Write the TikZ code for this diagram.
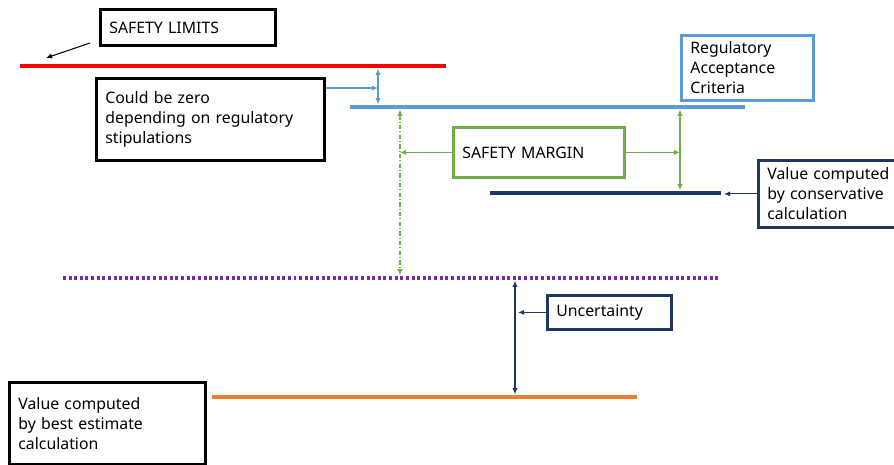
\documentclass[tikz,border=0pt]{standalone}
\usepackage{fontspec}
\setmainfont{Noto Sans}
\usetikzlibrary{arrows.meta}
\definecolor{limred}{HTML}{FF0000}
\definecolor{regblue}{HTML}{5B9BD5}
\definecolor{margreen}{HTML}{70AD47}
\definecolor{consnavy}{HTML}{1F3864}
\definecolor{dotpurple}{HTML}{7030A0}
\definecolor{bestorange}{HTML}{ED7D31}
\begin{document}
\begin{tikzpicture}[x=0.02cm,y=-0.02cm,>={Latex[length=3.5pt,width=3pt]},
  box/.style={draw,line width=1.6pt,anchor=north west,inner xsep=5pt,inner ysep=0pt,align=left,font=\fontsize{9}{11.3}\selectfont},
  level/.style={line width=2.2pt},
  pointer/.style={line width=0.6pt}]
\clip (0,0) rectangle (894,464);
\node[box,minimum width=3.5cm,text width=3.14cm,minimum height=0.72cm] (limits) at (99,8) {SAFETY LIMITS};
\node[box,minimum width=4.56cm,text width=4.2cm,minimum height=1.64cm] (zero) at (95,77) {Could be zero\\depending on regulatory\\stipulations};
\node[box,regblue,text=black,minimum width=2.64cm,text width=2.28cm,minimum height=1.3cm] (reg) at (680,34) {Regulatory\\Acceptance\\Criteria};
\node[box,margreen,text=black,minimum width=3.42cm,text width=3.06cm,minimum height=1cm] (margin) at (452,126) {SAFETY MARGIN};
\node[box,consnavy,text=black,minimum width=3cm,text width=2.64cm,minimum height=1.34cm] (cons) at (757,159) {Value computed\\by conservative\\calculation};
\node[box,consnavy,text=black,minimum width=2.48cm,text width=2.12cm,minimum height=0.68cm] (unc) at (546,294) {Uncertainty};
\node[box,minimum width=3.92cm,text width=3.56cm,minimum height=1.64cm] (best) at (8,381) {Value computed\\by best estimate\\calculation};
\coordinate (red-w) at (20,66);
\coordinate (red-e) at (446,66);
\coordinate (blue-w) at (350,107);
\coordinate (blue-e) at (745,107);
\coordinate (cons-w) at (490,193);
\coordinate (cons-e) at (721,193);
\coordinate (dot-w) at (63,278);
\coordinate (dot-e) at (720,278);
\coordinate (orange-w) at (212,397);
\coordinate (orange-e) at (637,397);
\draw[level,limred] (red-w) -- (red-e);
\draw[level,regblue] (blue-w) -- (blue-e);
\draw[level,consnavy] (cons-w) -- (cons-e);
\draw[line width=2pt,dotpurple,dash pattern=on 1.7pt off 1.5pt] (dot-w) -- (dot-e);
\draw[level,bestorange] (orange-w) -- (orange-e);
\coordinate (lim-tail) at (90,43);
\coordinate (lim-head) at (46,58);
\draw[pointer,->] (lim-tail) -- (lim-head);
\coordinate (zero-gap) at (378,88);
\draw[pointer,regblue,->] (zero.east |- zero-gap) -- (zero-gap);
\draw[pointer,regblue,<->,shorten <=1.5pt,shorten >=1.5pt] (zero-gap |- red-w) -- (zero-gap |- blue-w);
\coordinate (sm-l) at (400,152);
\coordinate (sm-r) at (680,152);
\draw[pointer,margreen,<->,dash pattern=on 2.5pt off 1.2pt on 0.6pt off 1.2pt,shorten <=1.5pt,shorten >=1.5pt] (sm-l |- blue-w) -- (sm-l |- dot-w);
\draw[pointer,margreen,->] (margin.west) -- (margin.west -| sm-l);
\draw[pointer,margreen,->] (margin.east) -- (margin.east -| sm-r);
\draw[pointer,margreen,<->,shorten <=1.5pt,shorten >=1.5pt] (sm-r |- blue-w) -- (sm-r |- cons-w);
\coordinate (cons-tip) at (724,193);
\draw[pointer,consnavy,->] (cons.west) -- (cons.west -| cons-tip);
\coordinate (unc-x) at (515,313);
\coordinate (unc-tip) at (518,313);
\draw[pointer,consnavy,<->,shorten <=1.5pt,shorten >=1.5pt] (unc-x |- dot-w) -- (unc-x |- orange-w);
\draw[pointer,consnavy,->] (unc.west) -- (unc.west -| unc-tip);
\end{tikzpicture}
\end{document}
